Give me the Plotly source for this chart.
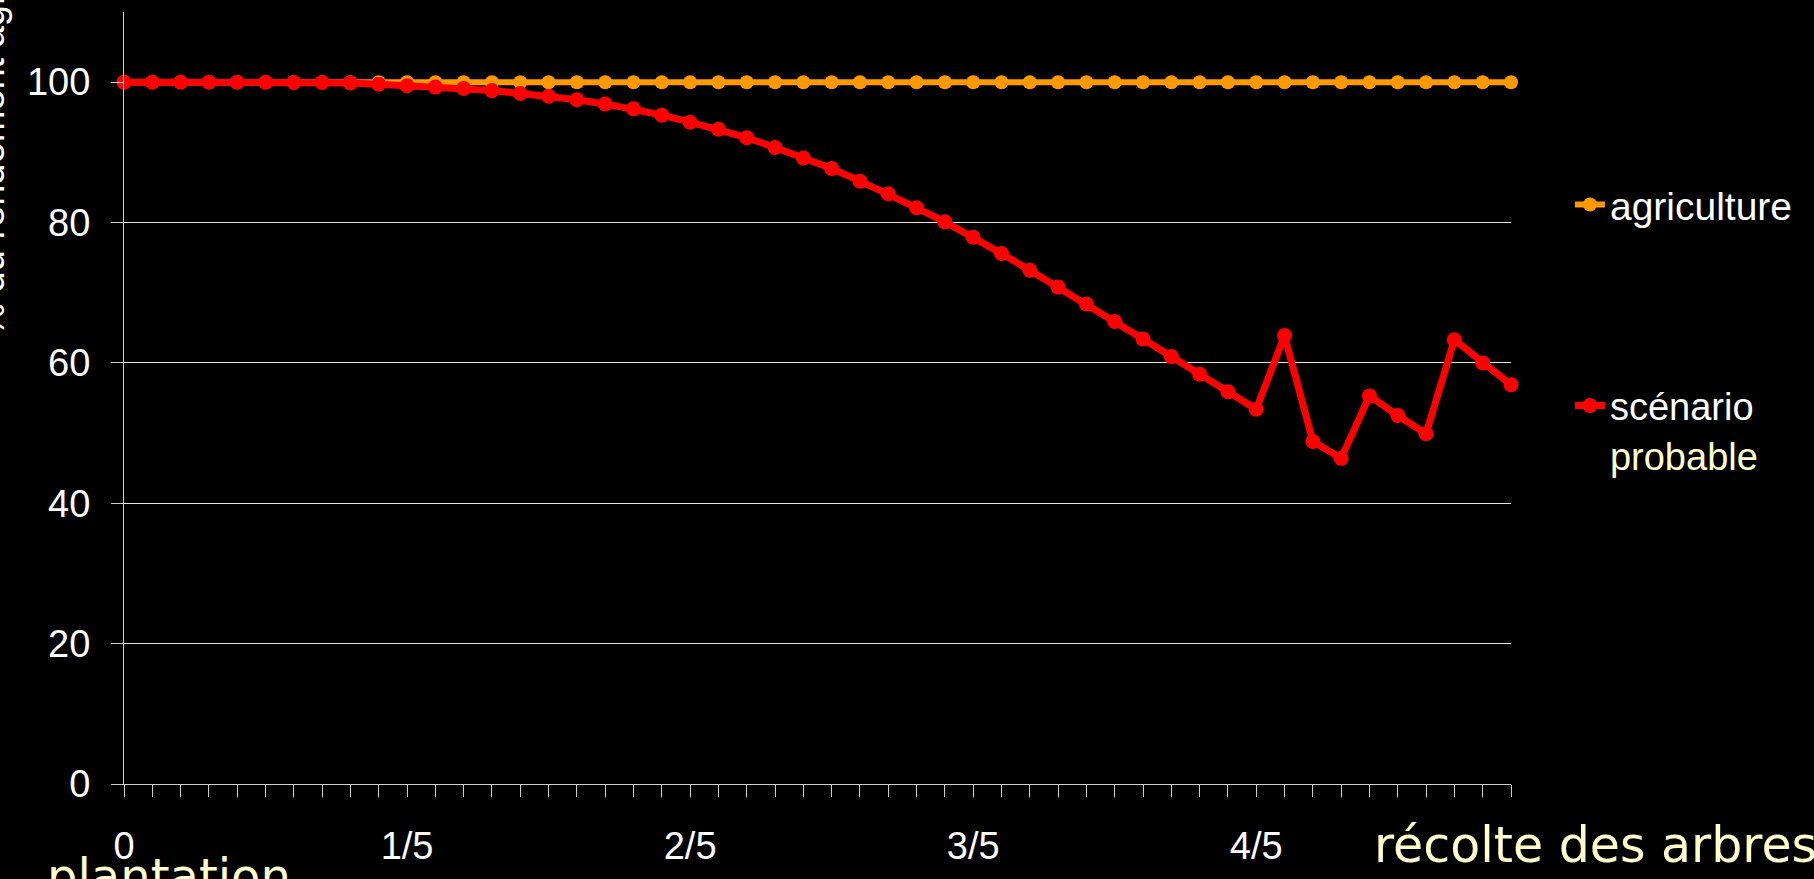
import plotly.graph_objects as go

# ---- data ----
periods = list(range(50))
tick_positions = [0, 10, 20, 30, 40]
tick_labels = ["0", "1/5", "2/5", "3/5", "4/5"]

agriculture = [100, 100, 100, 100, 100, 100, 100, 100, 100, 100,
               100, 100, 100, 100, 100, 100, 100, 100, 100, 100,
               100, 100, 100, 100, 100, 100, 100, 100, 100, 100,
               100, 100, 100, 100, 100, 100, 100, 100, 100, 100,
               100, 100, 100, 100, 100, 100, 100, 100, 100, 100]

scenario = [100, 100, 100, 100, 100, 99.98, 99.97, 99.95, 99.9, 99.7,
            99.5, 99.3, 99.1, 98.8, 98.4, 98.0, 97.5, 96.9, 96.2, 95.3,
            94.3, 93.3, 92.1, 90.7, 89.2, 87.7, 85.9, 84.1, 82.1, 80.1,
            77.9, 75.6, 73.2, 70.8, 68.4, 65.9, 63.4, 60.9, 58.4, 55.9,
            53.4, 63.9, 48.8, 46.4, 55.3, 52.5, 49.9, 63.3, 60.0, 56.9]

y_ticks = [0, 20, 40, 60, 80, 100]

# ---- figure ----
ORANGE = "#FF9900"
RED = "#FF0000"
PALE = "#FFFFCC"
FONT = "Liberation Sans, Arial, sans-serif"
HAND = "DejaVu Sans, sans-serif"

fig = go.Figure()
fig.add_trace(go.Scatter(
    x=periods, y=agriculture, name="agriculture", mode="lines+markers",
    line=dict(color=ORANGE, width=6), marker=dict(color=ORANGE, size=14),
    cliponaxis=False, legend="legend"))
fig.add_trace(go.Scatter(
    x=periods, y=scenario,
    name="scénario<br><span style='color:%s'>probable</span>" % PALE,
    mode="lines+markers",
    line=dict(color=RED, width=7), marker=dict(color=RED, size=15),
    cliponaxis=False, legend="legend2"))

tickvals = periods
ticktext = [tick_labels[tick_positions.index(p)] if p in tick_positions else "" for p in periods]

L, R, T, B = 124, 303, 12, 92
W, H = 1814, 879
fig.update_layout(
    width=W, height=H,
    margin=dict(l=L, r=R, t=T, b=B),
    paper_bgcolor="black", plot_bgcolor="black",
    font=dict(family=FONT, color="white", size=38),
    showlegend=True,
    legend=dict(x=1.0425, y=0.7505, xanchor="left", yanchor="middle",
                bgcolor="rgba(0,0,0,0)", font=dict(size=39, color="white", family=FONT),
                valign="top"),
    legend2=dict(x=1.0425, y=0.458, xanchor="left", yanchor="middle",
                 bgcolor="rgba(0,0,0,0)", font=dict(size=38, color="white", family=FONT),
                 valign="top"),
    xaxis=dict(range=[0, 49], tickvals=tickvals, ticktext=ticktext,
               ticks="outside", ticklen=12, tickcolor="#CFCFCF", tickwidth=1,
               showline=True, linecolor="#CFCFCF", linewidth=1,
               showgrid=False, zeroline=False, ticklabelstandoff=16,
               tickfont=dict(size=38, color="white", family=FONT)),
    yaxis=dict(range=[0, 110], tickvals=y_ticks,
               ticks="outside", ticklen=12, tickcolor="#CFCFCF", tickwidth=1,
               showline=True, linecolor="#CFCFCF", linewidth=1,
               showgrid=True, gridcolor="#E6E6E6", gridwidth=1,
               zeroline=False, ticklabelstandoff=13,
               tickfont=dict(size=38, color="white", family=FONT)),
)

plot_w = W - L - R
plot_h = H - T - B

def px_x(px):
    return (px - L) / plot_w

def px_y(py):
    return (H - B - py) / plot_h

fig.add_annotation(text="% du rendement agricole", textangle=-90,
                   xref="paper", yref="paper", x=px_x(14), y=px_y(340),
                   xanchor="right", yanchor="bottom", showarrow=False,
                   font=dict(size=38, color="white", family=FONT))
fig.add_annotation(text="plantation",
                   xref="paper", yref="paper", x=px_x(45), y=px_y(879),
                   xanchor="left", yanchor="middle", showarrow=False,
                   font=dict(size=48, color=PALE, family=HAND))
fig.add_annotation(text="récolte des arbres",
                   xref="paper", yref="paper", x=px_x(1372), y=px_y(849),
                   xanchor="left", yanchor="middle", showarrow=False,
                   font=dict(size=49, color=PALE, family=HAND))

fig.write_html(
    "out.html",
    config={"displayModeBar": False},
    post_script="document.body.style.margin='0';document.body.style.background='black';",
)
